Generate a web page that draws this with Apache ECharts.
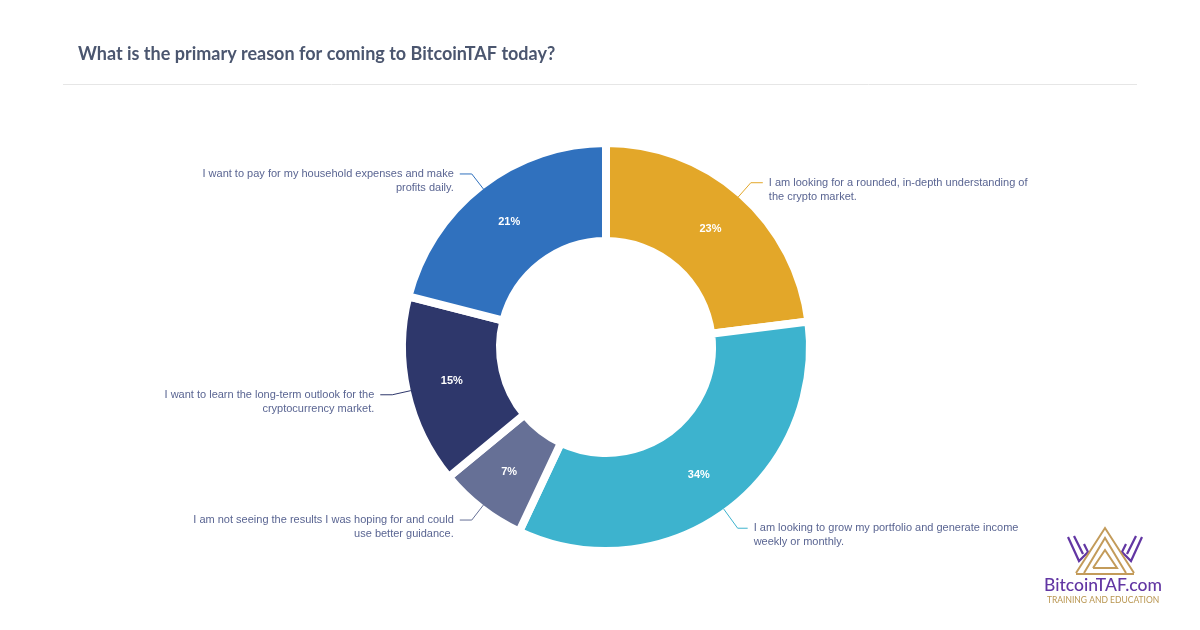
<!DOCTYPE html>
<html>
<head>
<meta charset="utf-8">
<script src="https://cdn.jsdelivr.net/npm/echarts@6/dist/echarts.min.js"></script>
<style>
html,body{margin:0;padding:0;background:#fff;}
#c{width:1200px;height:630px;}
</style>
</head>
<body>
<div id="c"></div>
<script>
var titleText = 'What is the primary reason for coming to BitcoinTAF today?';
var categories = [
  'I am looking for a rounded, in-depth understanding of\nthe crypto market.',
  'I am looking to grow my portfolio and generate income\nweekly or monthly.',
  'I am not seeing the results I was hoping for and could\nuse better guidance.',
  'I want to learn the long-term outlook for the\ncryptocurrency market.',
  'I want to pay for my household expenses and make\nprofits daily.'
];
var values = [23, 34, 7, 15, 21];
var colors = ['#e3a729', '#3db3ce', '#667096', '#2e376b', '#3071be'];

var chart = echarts.init(document.getElementById('c'), null, {renderer: 'canvas'});

var fillData = categories.map(function (c, i) {
  return {name: c, value: values[i], itemStyle: {color: colors[i]}};
});
var labelData = categories.map(function (c, i) {
  var item = {name: c, value: values[i], labelLine: {lineStyle: {color: colors[i]}}};
  if (i === 1) { item.labelLine.length = 24; item.labelLine.length2 = 10; }
  return item;
});

var center = [606, 347];

chart.setOption({
  backgroundColor: '#ffffff',
  animation: false,
  title: {
    text: titleText,
    left: 73,
    top: 40,
    textStyle: {fontFamily: 'Lato', fontWeight: 'bold', fontSize: 18, color: '#4b566f'}
  },
  graphic: [
    {type: 'line', shape: {x1: 63, y1: 84.5, x2: 1137, y2: 84.5}, style: {stroke: '#e6e6e6', lineWidth: 1}},
    // logo icon (approximate)
    {type: 'polyline', shape: {points: [[1068, 537], [1079, 561], [1088, 552], [1084, 544]]}, style: {stroke: '#6236a3', lineWidth: 2.2, fill: null}},
    {type: 'polyline', shape: {points: [[1074, 536], [1083, 554]]}, style: {stroke: '#6236a3', lineWidth: 2.2, fill: null}},
    {type: 'polyline', shape: {points: [[1142, 537], [1131, 561], [1122, 552], [1126, 544]]}, style: {stroke: '#6236a3', lineWidth: 2.2, fill: null}},
    {type: 'polyline', shape: {points: [[1136, 536], [1127, 554]]}, style: {stroke: '#6236a3', lineWidth: 2.2, fill: null}},
    {type: 'polyline', shape: {points: [[1076, 573], [1105, 528], [1134, 573]]}, style: {stroke: '#c39b5a', lineWidth: 2, fill: null}},
    {type: 'polyline', shape: {points: [[1084, 573], [1105, 538], [1126, 573]]}, style: {stroke: '#c39b5a', lineWidth: 2, fill: null}},
    {type: 'polyline', shape: {points: [[1093, 568], [1105, 550], [1117, 568], [1093, 568]]}, style: {stroke: '#c39b5a', lineWidth: 2, fill: null}},
    {type: 'line', shape: {x1: 1076, y1: 574, x2: 1134, y2: 574}, style: {stroke: '#c39b5a', lineWidth: 2}},
    {type: 'text', left: 1044, top: 576, style: {text: 'BitcoinTAF.com', font: '500 17.5px Lato', fill: '#6236a3'}},
    {type: 'text', left: 1047, top: 596, style: {text: 'TRAINING AND EDUCATION', font: '8.5px Lato', fill: '#b8954f'}}
  ],
  series: [
    {
      type: 'pie',
      center: center,
      radius: [106, 204],
      startAngle: 90,
      clockwise: true,
      avoidLabelOverlap: false,
      silent: true,
      itemStyle: {borderColor: '#ffffff', borderWidth: 8},
      label: {
        show: true,
        position: 'inside',
        formatter: '{c}%',
        color: '#ffffff',
        fontFamily: 'Liberation Sans',
        fontWeight: 'bold',
        fontSize: 11
      },
      labelLine: {show: false},
      data: fillData,
      z: 2
    },
    {
      type: 'pie',
      center: center,
      radius: [110, 200],
      startAngle: 90,
      clockwise: true,
      avoidLabelOverlap: false,
      silent: true,
      itemStyle: {color: 'rgba(0,0,0,0)', borderWidth: 0},
      label: {
        show: true,
        position: 'outside',
        formatter: function (p) { return ' \n' + p.name; },
        color: '#5a6592',
        fontFamily: 'Liberation Sans',
        fontSize: 11,
        lineHeight: 14,
        distanceToLabelLine: 6
      },
      labelLine: {show: true, length: 19, length2: 12, lineStyle: {width: 1}},
      data: labelData,
      z: 3
    }
  ]
});
</script>
</body>
</html>
